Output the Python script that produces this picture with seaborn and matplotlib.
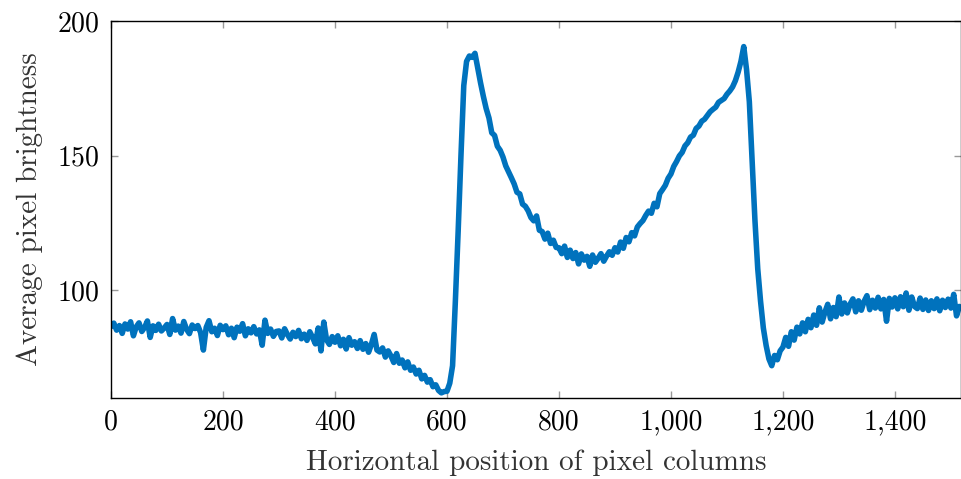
import numpy as np
import pandas as pd
import seaborn as sns
import matplotlib.pyplot as plt
from matplotlib.ticker import FuncFormatter

# column positions, one reading every 5 columns
x_start = 0
x_step = 5

# average brightness, row by row (100 columns per row)
brightness_0 = [86.5, 87.8, 85.2, 86.9, 84.0, 87.5, 85.6, 88.3, 83.1, 86.4, 87.9, 84.7, 86.2, 88.6, 82.5, 86.8, 85.1, 87.4, 84.9, 86.0]
brightness_1 = [87.3, 83.6, 89.5, 85.2, 86.7, 84.1, 88.4, 85.5, 83.9, 87.1, 85.8, 86.9, 84.3, 77.8, 86.2, 88.7, 84.6, 85.9, 83.2, 87.0]
brightness_2 = [85.4, 86.8, 83.5, 85.9, 82.4, 86.3, 84.8, 87.6, 83.1, 85.7, 84.2, 86.5, 83.8, 85.3, 79.6, 88.9, 84.0, 85.6, 82.9, 84.7]
brightness_3 = [84.9, 82.3, 85.7, 83.6, 81.9, 84.4, 82.8, 85.1, 82.0, 83.7, 81.4, 84.6, 82.5, 80.1, 86.0, 77.5, 88.2, 81.6, 79.9, 82.8]
brightness_4 = [80.7, 83.1, 79.4, 81.8, 78.2, 82.4, 79.6, 80.9, 78.4, 81.3, 78.1, 80.2, 77.0, 79.9, 83.6, 77.8, 77.1, 78.6, 75.2, 77.5]
brightness_5 = [75.6, 73.2, 76.5, 72.9, 74.1, 71.2, 73.4, 70.3, 71.5, 68.9, 70.3, 67.1, 68.4, 65.9, 66.8, 64.2, 64.9, 62.8, 61.9, 62.4]
brightness_6 = [62.5, 65.5, 72.0, 96.0, 122.0, 150.0, 176.0, 185.0, 187.0, 186.5, 188.0, 182.5, 177.0, 172.0, 167.5, 164.0, 158.5, 157.5, 153.5, 152.0]
brightness_7 = [149.5, 146.2, 144.0, 141.8, 139.5, 136.4, 135.8, 132.0, 131.2, 129.5, 127.0, 125.8, 127.6, 122.3, 121.8, 119.0, 121.2, 117.4, 118.6, 115.9]
brightness_8 = [115.8, 113.6, 116.4, 112.2, 114.9, 111.8, 114.0, 109.8, 113.5, 111.2, 112.6, 108.9, 113.1, 110.4, 111.9, 113.6, 110.8, 112.7, 114.3, 113.0]
brightness_9 = [115.8, 114.2, 117.9, 115.6, 119.6, 118.0, 121.4, 120.2, 123.5, 124.8, 125.9, 127.8, 129.4, 128.6, 132.3, 131.0, 135.9, 137.4, 139.0, 141.6]
brightness_10 = [143.2, 146.0, 147.8, 149.9, 151.2, 153.6, 154.8, 156.9, 157.6, 160.1, 161.0, 162.8, 163.5, 164.9, 166.3, 167.2, 168.0, 169.8, 170.5, 171.2]
brightness_11 = [172.8, 174.0, 175.5, 177.8, 181.0, 185.0, 190.5, 182.0, 170.0, 148.0, 126.0, 108.0, 96.0, 86.0, 79.5, 74.5, 72.0, 75.8, 74.2, 77.5]
brightness_12 = [78.9, 82.5, 79.2, 84.6, 81.5, 86.3, 83.8, 87.9, 84.6, 89.2, 86.1, 90.8, 87.0, 93.5, 88.2, 91.9, 94.8, 89.4, 93.6, 90.2]
brightness_13 = [97.5, 91.2, 95.3, 91.6, 94.9, 96.8, 92.0, 96.1, 92.6, 95.9, 98.0, 92.8, 96.3, 93.4, 97.4, 93.1, 96.6, 88.5, 97.0, 93.8]
brightness_14 = [97.2, 93.1, 97.6, 93.9, 99.0, 92.6, 97.5, 94.0, 93.2, 97.1, 92.9, 96.4, 92.5, 96.1, 93.2, 96.8, 92.4, 96.3, 93.6, 96.7]
brightness_15 = [93.4, 98.5, 90.5, 94.0]

x_ticks = [0, 200, 400, 600, 800, 1000, 1200, 1400]
y_ticks = [100, 150, 200]

brightness = (brightness_0 + brightness_1 + brightness_2 + brightness_3 + brightness_4
              + brightness_5 + brightness_6 + brightness_7 + brightness_8 + brightness_9
              + brightness_10 + brightness_11 + brightness_12 + brightness_13
              + brightness_14 + brightness_15)
columns = [x_start + x_step * i for i in range(len(brightness))]
df = pd.DataFrame({"column": columns, "brightness": brightness})

sns.set_style("ticks")
plt.rcParams["font.family"] = ["cmr10", "DejaVu Serif"]
plt.rcParams["mathtext.fontset"] = "cm"
plt.rcParams["axes.formatter.use_mathtext"] = True

fig = plt.figure(figsize=(9.61, 4.79), dpi=100)
ax = fig.add_axes([111 / 961, 1 - 398 / 479, 850 / 961, 377 / 479])

sns.lineplot(data=df, x="column", y="brightness", ax=ax, color="#0072BD",
             linewidth=4.0, solid_joinstyle="round")

ax.set_xlim(0, 1518)
ax.set_ylim(60, 200)
ax.set_xticks(x_ticks)
ax.set_yticks(y_ticks)
ax.xaxis.set_major_formatter(FuncFormatter(lambda v, p: f"{int(v):,}"))

ax.tick_params(direction="in", length=5, width=1, color="#999999",
               top=True, right=True, labelsize=20, labelcolor="black", pad=8)
for s in ax.spines.values():
    s.set_color("black")
    s.set_linewidth(1.0)

ax.set_xlabel("Horizontal position of pixel columns", fontsize=21, color="#333333", labelpad=10)
ax.set_ylabel("Average pixel brightness", fontsize=21, color="#333333", labelpad=10)

fig.savefig("out.png", dpi=100)
